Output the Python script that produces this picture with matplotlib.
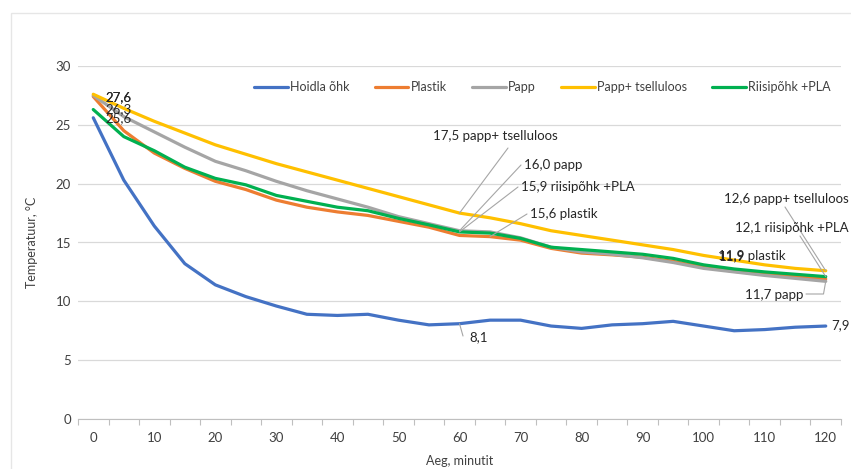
import numpy as np
import matplotlib
matplotlib.use("Agg")
import matplotlib.pyplot as plt
from matplotlib.patches import Rectangle

plt.rcParams['font.family'] = ['Lato', 'DejaVu Sans']

times = [0, 5, 10, 15, 20, 25, 30, 35, 40, 45, 50, 55, 60, 65, 70, 75, 80, 85, 90, 95, 100, 105, 110, 115, 120]

hoidla = [25.6, 20.3, 16.4, 13.2, 11.4, 10.4, 9.6, 8.9, 8.8, 8.9, 8.4, 8.0, 8.1, 8.4, 8.4,
          7.9, 7.7, 8.0, 8.1, 8.3, 7.9, 7.5, 7.6, 7.8, 7.9]
plastik = [27.4, 24.5, 22.6, 21.3, 20.2, 19.5, 18.6, 18.0, 17.6, 17.3, 16.8, 16.3, 15.6, 15.5, 15.2,
           14.5, 14.1, 13.95, 13.75, 13.4, 12.9, 12.55, 12.3, 12.1, 11.9]
papp = [27.5, 25.7, 24.4, 23.1, 21.9, 21.1, 20.2, 19.4, 18.7, 18.0, 17.2, 16.6, 16.0, 15.9, 15.4,
        14.6, 14.2, 14.0, 13.7, 13.3, 12.8, 12.5, 12.2, 11.95, 11.7]
papp_tsell = [27.6, 26.4, 25.3, 24.3, 23.3, 22.5, 21.7, 21.0, 20.3, 19.6, 18.9, 18.2, 17.5, 17.1, 16.6,
              16.0, 15.6, 15.2, 14.8, 14.4, 13.9, 13.5, 13.1, 12.8, 12.6]
riisi = [26.3, 24.0, 22.8, 21.4, 20.45, 19.9, 19.0, 18.5, 18.0, 17.7, 17.05, 16.5, 15.9, 15.8, 15.35,
         14.6, 14.4, 14.2, 14.0, 13.65, 13.1, 12.75, 12.5, 12.3, 12.1]

series_names = ["Hoidla õhk", "Plastik", "Papp", "Papp+ tselluloos", "Riisipõhk +PLA"]
colors = ["#4472C4", "#ED7D31", "#A5A5A5", "#FFC000", "#00B050"]
yticks = [0, 5, 10, 15, 20, 25, 30]

fig = plt.figure(figsize=(8.51, 4.69), dpi=100)
W, H = 851, 469
ax = fig.add_axes([78 / W, 1 - 419 / H, (841 - 78) / W, (419 - 66) / H])

# chart border
fig.patches.append(Rectangle((11 / W, -0.1), 1.2, 1 - 13 / H + 0.1, transform=fig.transFigure,
                             fill=False, edgecolor="#E6E6E6", lw=1.0))

x = np.arange(len(times))
all_series = [hoidla, plastik, papp, papp_tsell, riisi]
for vals, name, c in zip(all_series, series_names, colors):
    ax.plot(x, vals, color=c, lw=2.3, label=name, solid_joinstyle='round', solid_capstyle='round')

ax.set_xlim(-0.5, len(times) - 0.5)
ax.set_ylim(0, 30)
ax.set_yticks(yticks)
ax.set_yticklabels([str(v) for v in yticks])
ax.set_xticks(x[::2])
ax.set_xticklabels([str(t) for t in times[::2]])
ax.set_xticks(np.arange(-0.5, len(times), 1), minor=True)
ax.tick_params(axis='x', which='major', length=0, pad=9, labelsize=9.5, colors="#404040")
ax.tick_params(axis='x', which='minor', length=4, color="#BFBFBF", width=0.8)
ax.tick_params(axis='y', length=0, pad=5, labelsize=9.5, colors="#404040")
ax.grid(axis='y', color="#D9D9D9", lw=0.9)
ax.set_axisbelow(True)
for s in ['top', 'right', 'left']:
    ax.spines[s].set_visible(False)
ax.spines['bottom'].set_color("#BFBFBF")
ax.spines['bottom'].set_zorder(0.5)

ax.set_ylabel("Temperatuur, °C", fontsize=9, color="#404040", labelpad=13)
ax.set_xlabel("Aeg, minutit", fontsize=9, color="#404040", labelpad=8)

leg = ax.legend(loc='upper right', bbox_to_anchor=(1.0, 0.985), ncol=5, frameon=False,
                fontsize=9, handlelength=2.7, handletextpad=0.2, columnspacing=2.0,
                borderaxespad=0.4)
for t in leg.get_texts():
    t.set_color("#404040")

tc = "#262626"
fs = 9.5
lc = "#A6A6A6"

def fmt(v):
    return f"{v:.1f}".replace('.', ',')

def txt(text, tx, ty, ha='left'):
    fig.text(tx / W, 1 - ty / H, text, fontsize=fs, color=tc, ha=ha, va='center')

def leader(i, vals, tx, ty, **extra):
    ax.annotate("", xy=(x[i], vals[i]), xytext=(tx, H - ty), textcoords='figure pixels',
                arrowprops=dict(arrowstyle='-', color=lc, lw=0.8, shrinkA=0, shrinkB=0, **extra))

# start labels
txt(fmt(papp_tsell[0]), 105, 97)
txt(fmt(plastik[0] + 0.2), 105.6, 97)
txt(fmt(riisi[0]), 105, 109)
txt(fmt(hoidla[0]), 105, 118)

# middle labels (60 min)
i60 = times.index(60)
leader(i60, papp_tsell, 508, 148)
txt(fmt(papp_tsell[i60]) + " papp+ tselluloos", 433, 136)
leader(i60, papp, 521, 165)
txt(fmt(papp[i60]) + " papp", 524, 165)
leader(i60, riisi, 518, 187)
txt(fmt(riisi[i60]) + " riisipõhk +PLA", 521, 187)
leader(i60 + 1, plastik, 527, 214)
txt(fmt(plastik[i60]) + " plastik", 530, 214)
leader(i60, hoidla, 463, 336)
txt(fmt(hoidla[i60]), 469, 337)

# end labels (120 min)
ie = len(times) - 1
leader(ie, papp_tsell, 785, 207)
txt(fmt(papp_tsell[ie]) + " papp+ tselluloos", 849, 199, ha='right')
leader(ie, riisi, 800, 236)
txt(fmt(riisi[ie]) + " riisipõhk +PLA", 849, 228, ha='right')
txt(fmt(plastik[ie]) + " plastik", 718, 256)
txt(fmt(plastik[ie]), 718.6, 256)
leader(ie, papp, 806, 294, connectionstyle="angle,angleA=0,angleB=80,rad=0")
txt(fmt(papp[ie]) + " papp", 803, 295, ha='right')
txt(fmt(hoidla[ie]), 831, 325)

fig.savefig("out.png", dpi=100)
